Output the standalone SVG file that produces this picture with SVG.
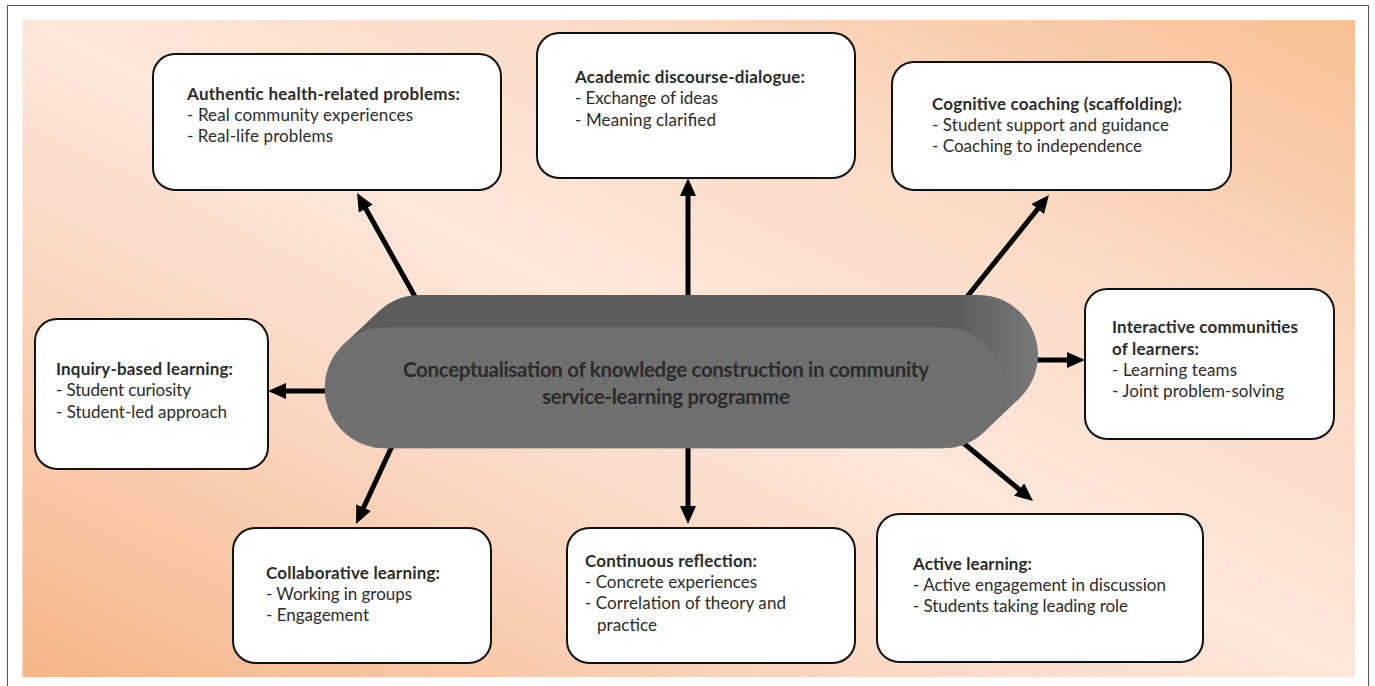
<svg xmlns="http://www.w3.org/2000/svg" width="1375" height="686" viewBox="0 0 1375 686">
  <style>
    .box { fill: #ffffff; stroke: #111111; stroke-width: 2; }
    .ttl { font-family: Lato, "Liberation Sans", sans-serif; font-weight: bold; font-size: 17px; fill: #2b2b2b; }
    .itm { font-family: Lato, "Liberation Sans", sans-serif; font-size: 17px; fill: #2b2b2b; }
    .ctr { font-family: Lato, "Liberation Sans", sans-serif; font-weight: bold; font-size: 20.5px; fill: #2a2a2a; }
    .arw { stroke: #000000; stroke-width: 5; fill: none; marker-end: url(#head); }
  </style>
  <defs>
    <linearGradient id="bg" x1="0" y1="1" x2="1" y2="0">
      <stop offset="0" stop-color="#f5b587"/>
      <stop offset="0.3" stop-color="#fad6c0"/>
      <stop offset="0.5" stop-color="#fce7db"/>
      <stop offset="0.7" stop-color="#fbdcc8"/>
      <stop offset="1" stop-color="#f7c094"/>
    </linearGradient>
    <linearGradient id="body" gradientUnits="userSpaceOnUse" x1="955" y1="0" x2="1040" y2="0">
      <stop offset="0" stop-color="#5c5c5c"/>
      <stop offset="0.6" stop-color="#6e6e6e"/>
      <stop offset="1" stop-color="#7a7a7a"/>
    </linearGradient>
    <marker id="head" viewBox="0 0 18 16" refX="8" refY="8" markerWidth="18" markerHeight="16" markerUnits="userSpaceOnUse" orient="auto">
      <path d="M0,0 L18,8 L0,16 z" fill="#000000"/>
    </marker>
  </defs>

  <!-- page frame and background panel -->
  <rect x="7.5" y="5.5" width="1361" height="690" fill="#ffffff" stroke="#555555" stroke-width="1"/>
  <rect x="22.5" y="20" width="1332.5" height="657" fill="url(#bg)"/>

  <!-- connectors from the central concept to each node -->
  <g id="connectors">
    <line class="arw" x1="418" y1="302" x2="361.9" y2="201.7"/>
    <line class="arw" x1="688" y1="300" x2="688" y2="188"/>
    <line class="arw" x1="962" y1="303" x2="1042.7" y2="202.8"/>
    <line class="arw" x1="1030" y1="360" x2="1075" y2="360"/>
    <line class="arw" x1="332" y1="391" x2="278" y2="391"/>
    <line class="arw" x1="393" y1="444" x2="360.2" y2="514.9"/>
    <line class="arw" x1="688" y1="444" x2="688" y2="514"/>
    <line class="arw" x1="955" y1="436" x2="1025.3" y2="494.6"/>
  </g>

  <!-- central extruded capsule: swept body behind, front face on top -->
  <g id="centre">
    <path d="M385,388 L943,388 L978,355 L420,355 Z" fill="url(#body)" stroke="url(#body)" stroke-width="120" stroke-linejoin="round"/>
    <rect x="325" y="328" width="678" height="120" rx="60" ry="60" fill="#6f6f6f" stroke="#787878" stroke-width="0.8"/>
    <text class="ctr" x="666" y="377" text-anchor="middle" textLength="526">Conceptualisation of knowledge construction in community</text>
    <text class="ctr" x="666" y="404" text-anchor="middle" textLength="248">service-learning programme</text>
  </g>

  <g id="authentic">
    <rect class="box" x="153" y="54" width="348" height="136" rx="22"/>
    <text class="ttl" x="187" y="100" textLength="273">Authentic health-related problems:</text>
    <text class="itm" x="187" y="121" textLength="226">- Real community experiences</text>
    <text class="itm" x="187" y="142" textLength="146">- Real-life problems</text>
  </g>

  <g id="academic">
    <rect class="box" x="537" y="33" width="318" height="145" rx="22"/>
    <text class="ttl" x="575" y="83" textLength="230">Academic discourse-dialogue:</text>
    <text class="itm" x="575" y="104" textLength="143">- Exchange of ideas</text>
    <text class="itm" x="575" y="126" textLength="141">- Meaning clarified</text>
  </g>

  <g id="cognitive">
    <rect class="box" x="892" y="62" width="339" height="128" rx="22"/>
    <text class="ttl" x="932" y="110" textLength="250">Cognitive coaching (scaffolding):</text>
    <text class="itm" x="932" y="131" textLength="237">- Student support and guidance</text>
    <text class="itm" x="932" y="152" textLength="210">- Coaching to independence</text>
  </g>

  <g id="inquiry">
    <rect class="box" x="35" y="319" width="233" height="150" rx="22"/>
    <text class="ttl" x="56" y="375" textLength="177">Inquiry-based learning:</text>
    <text class="itm" x="56" y="396" textLength="135">- Student curiosity</text>
    <text class="itm" x="56" y="418" textLength="171">- Student-led approach</text>
  </g>

  <g id="interactive">
    <rect class="box" x="1085" y="289" width="249" height="150" rx="22"/>
    <text class="ttl" x="1112" y="333" textLength="186">Interactive communities</text>
    <text class="ttl" x="1112" y="355" textLength="87">of learners:</text>
    <text class="itm" x="1112" y="376" textLength="125">- Learning teams</text>
    <text class="itm" x="1112" y="397" textLength="172">- Joint problem-solving</text>
  </g>

  <g id="collaborative">
    <rect class="box" x="233" y="528" width="258" height="135" rx="22"/>
    <text class="ttl" x="266" y="579" textLength="174">Collaborative learning:</text>
    <text class="itm" x="266" y="600" textLength="146">- Working in groups</text>
    <text class="itm" x="266" y="621" textLength="103">- Engagement</text>
  </g>

  <g id="continuous">
    <rect class="box" x="567" y="528" width="288" height="135" rx="22"/>
    <text class="ttl" x="585" y="567" textLength="172">Continuous reflection:</text>
    <text class="itm" x="585" y="588" textLength="172">- Concrete experiences</text>
    <text class="itm" x="585" y="609" textLength="201">- Correlation of theory and</text>
    <text class="itm" x="597" y="631" textLength="60">practice</text>
  </g>

  <g id="active">
    <rect class="box" x="877" y="514" width="326" height="148" rx="22"/>
    <text class="ttl" x="913" y="570" textLength="119">Active learning:</text>
    <text class="itm" x="913" y="591" textLength="253">- Active engagement in discussion</text>
    <text class="itm" x="913" y="612" textLength="215">- Students taking leading role</text>
  </g>
</svg>
